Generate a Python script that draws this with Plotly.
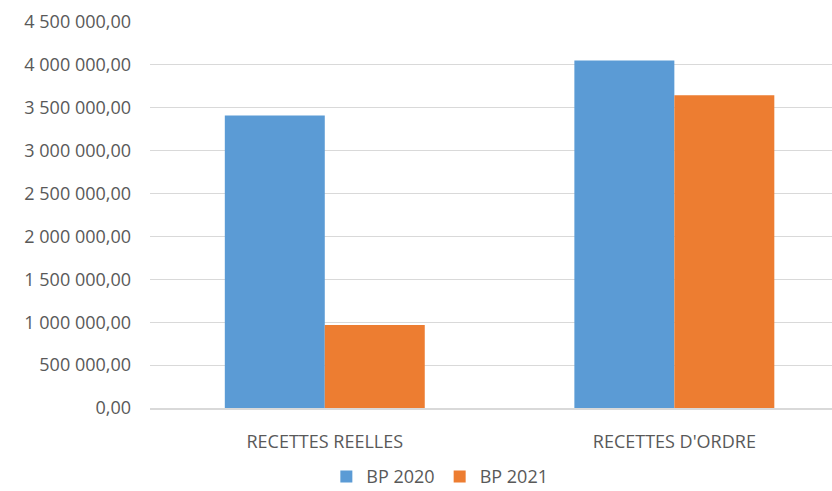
import plotly.graph_objects as go

categories = ["RECETTES REELLES", "RECETTES D'ORDRE"]
series_names = ["BP 2020", "BP 2021"]
bp2020 = [3410000, 4050000]
bp2021 = [967000, 3645000]
colors = ["#5B9BD5", "#ED7D31"]
tick_vals = [0, 500000, 1000000, 1500000, 2000000, 2500000, 3000000, 3500000, 4000000, 4500000]
tick_text = ["0,00", "500 000,00", "1 000 000,00", "1 500 000,00", "2 000 000,00",
             "2 500 000,00", "3 000 000,00", "3 500 000,00", "4 000 000,00", "4 500 000,00"]

fig = go.Figure()
for name, vals, col in zip(series_names, [bp2020, bp2021], colors):
    fig.add_trace(go.Bar(x=categories, y=vals, name=name, marker=dict(color=col, line=dict(width=0))))

font_color = "#595959"
fig.update_layout(
    width=832, height=491,
    margin=dict(l=150, r=0, t=21.5, b=82.5, autoexpand=False),
    paper_bgcolor="white", plot_bgcolor="white",
    barmode="group", bargap=0.428, bargroupgap=0,
    font=dict(family="Open Sans", size=18, color=font_color),
    showlegend=True,
    legend=dict(orientation="h", x=0.425, xanchor="center", y=-0.178, yanchor="middle",
                font=dict(size=18, color=font_color), itemwidth=30, traceorder="normal",
                tracegroupgap=0, borderwidth=0),
    xaxis=dict(range=[-0.5, 1.451], showgrid=False, showline=True, linecolor="#d9d9d9", linewidth=1.5,
               ticks="", ticklabelstandoff=17, tickfont=dict(size=18, color=font_color)),
    yaxis=dict(range=[0, 4500000], tickvals=tick_vals, ticktext=tick_text, showgrid=True,
               gridcolor="#d9d9d9", gridwidth=1, zeroline=False, showline=False, ticks="",
               ticklabelstandoff=18, tickfont=dict(size=18, color=font_color)),
)
fig.write_html("out.html")
